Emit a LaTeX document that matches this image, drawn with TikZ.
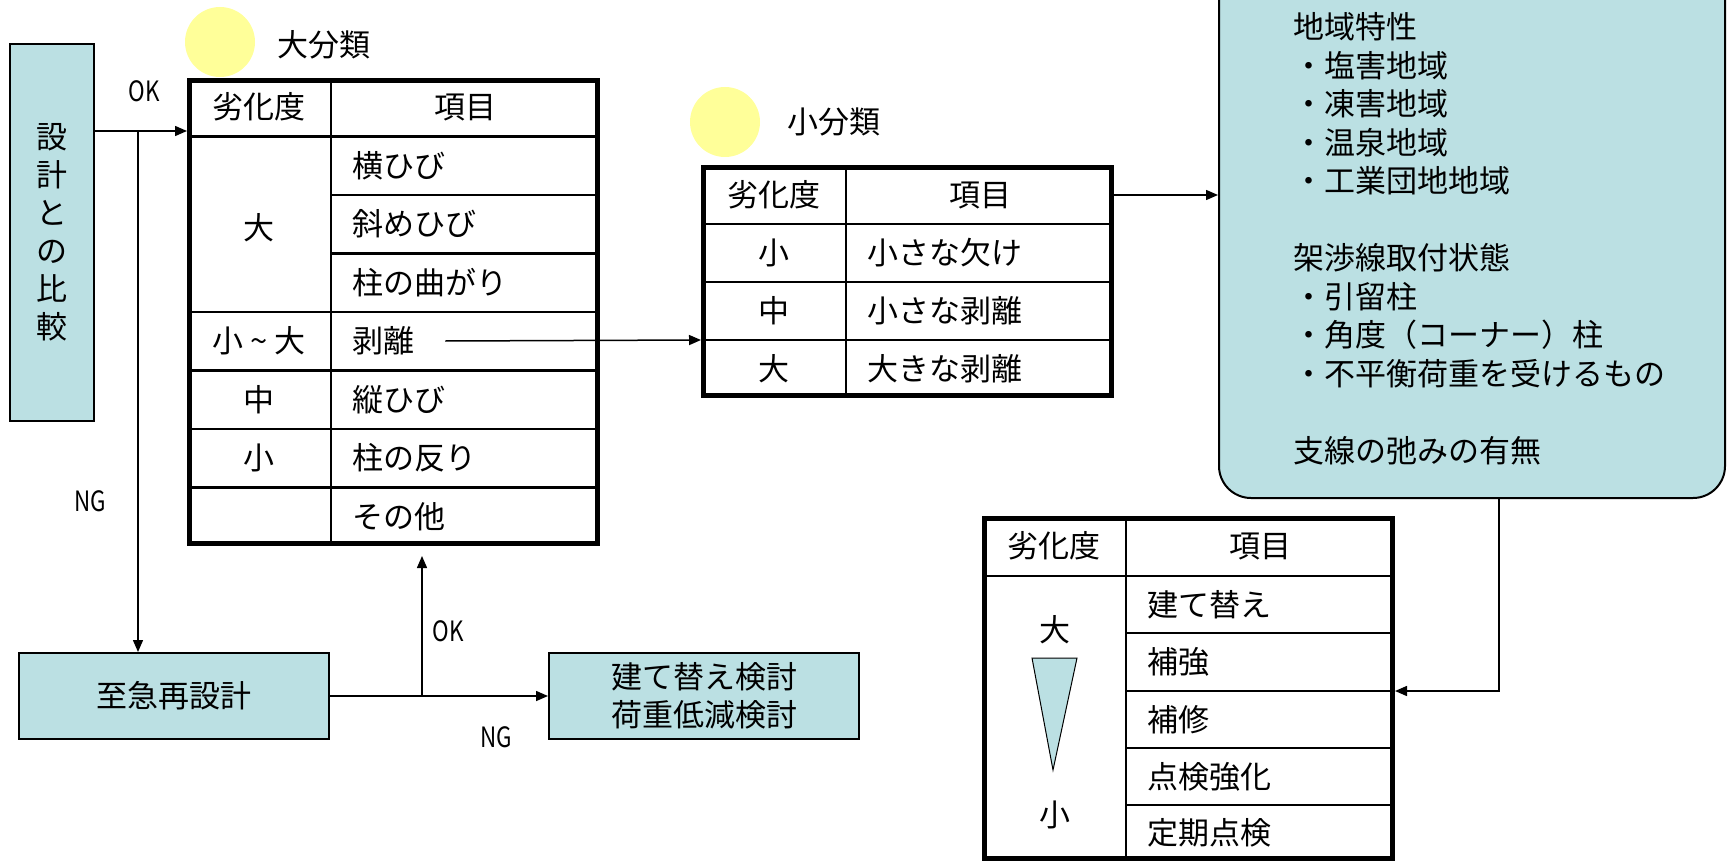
\documentclass[tikz,border=0pt]{standalone}
\usepackage{fontspec}
\setmainfont{Noto Sans CJK JP}
\usetikzlibrary{arrows.meta}
\definecolor{boxblue}{HTML}{BBE0E3}
\definecolor{dotyellow}{HTML}{FFFF99}
\begin{document}
\begin{tikzpicture}[x=1pt,y=-1pt,
  every node/.style={inner sep=0pt, font=\fontsize{31}{38}\selectfont},
  conn/.style={line width=1.5pt},
  arr/.style={conn,-{Triangle[length=12pt,width=10pt]}},
  bluebox/.style={draw, line width=2pt, fill=boxblue},
  tframe/.style={draw, line width=5pt},
  gridline/.style={line width=2.5pt},
  lbl/.style={font=\fontsize{28}{32}\selectfont},
  item/.style={anchor=west},
  dot/.style={circle, fill=dotyellow, minimum size=70pt},
]
\useasboundingbox (0,0) rectangle (1728,861);
\clip (0,0) rectangle (1728,861);

% ---------- left box ----------
\node[bluebox, minimum width=84pt, minimum height=377pt, align=center] (L) at (52,232.5) {設\\計\\と\\の\\比\\較};

% ---------- big table (大分類) ----------
\node[dot] (c1) at (220,42) {};
\node[anchor=west] (t1title) at (277,45) {大分類};
\node[tframe, minimum width=408pt, minimum height=463pt] (T1) at (393.5,312) {};
\draw[gridline] (331,80.5) -- (331,543.5);
\draw[gridline] (189.5,136.5) -- (597.5,136.5);
\draw[gridline] (331,195) -- (597.5,195);
\draw[gridline] (331,253.5) -- (597.5,253.5);
\foreach \yy in {312,370.5,429,487.5} \draw[gridline] (189.5,\yy) -- (597.5,\yy);
\node (t1h1) at (259,107) {劣化度};
\node (t1h2) at (465.5,107) {項目};
\node (t1a) at (259,228) {大};
\node (t1b) at (259,341) {小\makebox[1em]{\textasciitilde}大};
\node (t1c) at (259,400) {中};
\node (t1d) at (259,458) {小};
\node[item] (t1i1) at (352,166) {横ひび};
\node[item] (t1i2) at (352,224) {斜めひび};
\node[item] (t1i3) at (352,283) {柱の曲がり};
\node[item] (hakuri) at (352,341) {剥離};
\node[item] (t1i5) at (352,400) {縦ひび};
\node[item] (t1i6) at (352,458) {柱の反り};
\node[item] (t1i7) at (352,517) {その他};

% ---------- small table (小分類) ----------
\node[dot] (c2) at (725,122) {};
\node[anchor=west] (t2title) at (787,122) {小分類};
\node[tframe, minimum width=408pt, minimum height=228pt] (T2) at (907.5,281.5) {};
\draw[gridline] (846,167.5) -- (846,395.5);
\foreach \yy in {224,282,340} \draw[gridline] (703.5,\yy) -- (1111.5,\yy);
\node (t2h1) at (773.5,195) {劣化度};
\node (t2h2) at (980,195) {項目};
\node (t2a) at (773.5,253) {小};
\node (t2b) at (773.5,311) {中};
\node (t2c) at (773.5,369) {大};
\node[item] (t2i1) at (867,253) {小さな欠け};
\node[item] (t2i2) at (867,311) {小さな剥離};
\node[item] (t2i3) at (867,369) {大きな剥離};

% ---------- rounded info box ----------
\node[bluebox, rounded corners=32pt, minimum width=506pt, minimum height=560pt] (RB) at (1472,218) {};
\node[anchor=west, align=left, font=\fontsize{31}{38.5}\selectfont] (rbtext) at (1293,238.5)
 {地域特性\\・塩害地域\\・凍害地域\\・温泉地域\\・工業団地地域\\[38.5pt]架渉線取付状態\\・引留柱\\・角度（コーナー）柱\\・不平衡荷重を受けるもの\\[38.5pt]支線の弛みの有無};

% ---------- bottom-right table ----------
\node[tframe, minimum width=408pt, minimum height=340pt] (T3) at (1188.5,688.5) {};
\draw[gridline] (1126,518.5) -- (1126,858.5);
\draw[gridline] (984.5,576) -- (1392.5,576);
\foreach \yy in {633,691,748,805} \draw[gridline] (1126,\yy) -- (1392.5,\yy);
\node (t3h1) at (1054,546) {劣化度};
\node (t3h2) at (1260.5,546) {項目};
\node (t3a) at (1055,630) {大};
\node (t3b) at (1055,815) {小};
\draw[line width=1pt, fill=boxblue] (1032,658) -- (1077,658) -- (1053,770) -- cycle;
\node[item] (t3i1) at (1147,604.5) {建て替え};
\node[item] (t3i2) at (1147,662) {補強};
\node[item] (t3i3) at (1147,719.5) {補修};
\node[item] (t3i4) at (1147,776.5) {点検強化};
\node[item] (t3i5) at (1147,833) {定期点検};

% ---------- lower boxes ----------
\node[bluebox, minimum width=310pt, minimum height=86pt] (R1) at (174,696) {至急再設計};
\node[bluebox, minimum width=310pt, minimum height=86pt, align=center] (R2) at (704,696) {建て替え検討\\荷重低減検討};

% ---------- labels ----------
\node[lbl] (ok1) at (144,91) {\scalebox{0.8}[1]{OK}};
\node[lbl] (ng1) at (90,501) {\scalebox{0.8}[1]{NG}};
\node[lbl] (ok2) at (448,631) {\scalebox{0.8}[1]{OK}};
\node[lbl] (ng2) at (496,737) {\scalebox{0.8}[1]{NG}};

% ---------- connectors ----------
\coordinate (okrow) at (0,131);
\coordinate (B1) at (138,131);
\coordinate (B2) at (422,696);
\coordinate (D) at (1499,691);
\draw[arr] (L.east |- okrow) -- (T1.west |- okrow);
\draw[arr] (B1) -- (B1 |- R1.north);
\draw[arr] (R1.east) -- (R2.west);
\draw[arr, shorten >=10pt] (B2) -- (B2 |- T1.south);
\draw[arr] ([xshift=31pt]hakuri.east) -- (T2.west |- 0,340);
\draw[arr] (T2.east |- t2h2) -- (RB.west |- t2h2);
\draw[arr] (RB.south -| D) -- (D) -- (T3.east |- D);
\end{tikzpicture}
\end{document}
